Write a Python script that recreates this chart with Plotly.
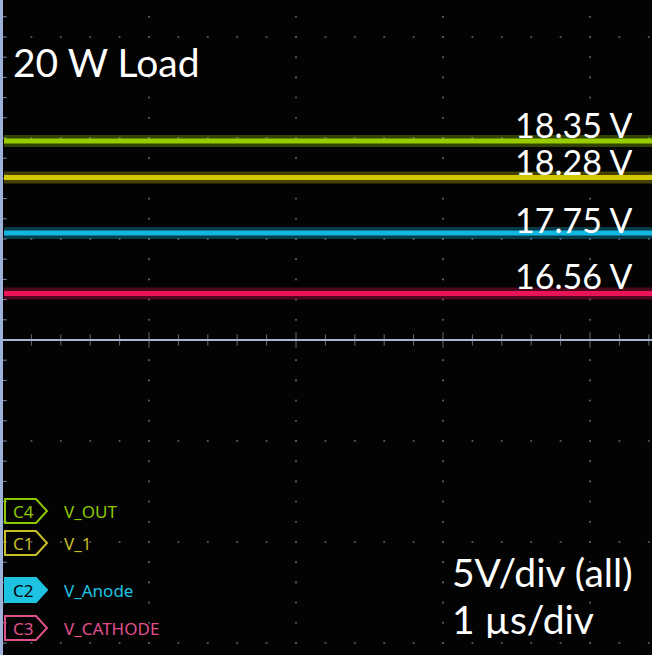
import numpy as np
import plotly.graph_objects as go

W, H = 652, 655

# ---- data ----
channels = ["C4", "C1", "C2", "C3"]
signal_names = ["V_OUT", "V_1", "V_Anode", "V_CATHODE"]
mean_volts = [18.35, 18.28, 17.75, 16.56]
screen_level_div = [1.97, 1.61, 1.06, 0.46]   # on-screen trace position (divisions above centre)
reading_labels = ["18.35 V", "18.28 V", "17.75 V", "16.56 V"]
trace_colors = ["#9CD400", "#D9D000", "#12BEE8", "#F2145C"]
legend_colors = ["#8EC800", "#C9BE26", "#1EC3E1", "#E0508C"]
title_text = "20 W Load"
scale_texts = ["5V/div (all)", "1 µs/div"]
volts_per_div = 5
us_per_div = 1

# ---- screen geometry (pixels) ----
X0_PX, PX_PER_XDIV = 2, 147
Y0_PX, PX_PER_YDIV = 340, 101
x_range = [(0 - X0_PX) / PX_PER_XDIV * us_per_div, (W - X0_PX) / PX_PER_XDIV * us_per_div]
y_range = [(Y0_PX - H) / PX_PER_YDIV, Y0_PX / PX_PER_YDIV]


def paper(px, py):
    return px / W, 1 - py / H


fig = go.Figure()

# ---- graticule dots ----
grid_col = "#55586a"
gx, gy = [], []
minor_x = np.arange(0, 4.5, 0.2)
minor_y = np.arange(-3.0, 3.3, 0.2)
for yy in [-3, -2, -1, 1, 2, 3]:
    gx += list(minor_x); gy += [yy] * len(minor_x)
for xx in [1, 2, 3, 4]:
    gx += [xx] * len(minor_y); gy += list(minor_y)
fig.add_trace(go.Scatter(x=gx, y=gy, mode="markers",
                         marker=dict(size=2.2, color=grid_col, line=dict(width=0)),
                         hoverinfo="skip", showlegend=False))

# centre horizontal line with ticks
axis_col = "#A9B6D2"
fig.add_shape(type="line", xref="x", yref="y", x0=x_range[0], x1=x_range[1], y0=0, y1=0,
              line=dict(color=axis_col, width=2))
fig.add_trace(go.Scatter(x=list(minor_x), y=[0] * len(minor_x), mode="markers",
                         marker=dict(symbol="line-ns", size=[11 if abs(v - round(v)) < 1e-6 else 8 for v in minor_x],
                                     line=dict(color="#8d98b0", width=1)),
                         hoverinfo="skip", showlegend=False))
# left vertical line with ticks
fig.add_shape(type="line", xref="paper", yref="paper", x0=1.5 / W, x1=1.5 / W, y0=0, y1=1,
              line=dict(color="#9FB2DA", width=3))
fig.add_trace(go.Scatter(x=[x_range[0] + 4 / PX_PER_XDIV] * len(minor_y), y=list(minor_y), mode="markers",
                         marker=dict(symbol="line-ew", size=4, line=dict(color="#7d88a0", width=1)),
                         hoverinfo="skip", showlegend=False))

# ---- traces ----
for ch, lvl, col in zip(channels, screen_level_div, trace_colors):
    xs = [x_range[0] + 4 / PX_PER_XDIV, x_range[1]]
    fig.add_trace(go.Scatter(x=xs, y=[lvl, lvl], mode="lines", line=dict(color=col, width=12),
                             opacity=0.3, hoverinfo="skip", showlegend=False))
    fig.add_trace(go.Scatter(x=xs, y=[lvl, lvl], mode="lines", line=dict(color=col, width=5),
                             opacity=0.95, hoverinfo="skip", showlegend=False, name=ch))

# ---- texts ----
FONT = "Lato"
ann = []
px, py = paper(11, 62)
ann.append(dict(x=px, y=py, text=title_text, xanchor="left", yanchor="middle",
                font=dict(family=FONT, size=39, color="white")))
reading_centres = [124, 161, 219, 275]
for lab, cy in zip(reading_labels, reading_centres):
    px, py = paper(634, cy)
    ann.append(dict(x=px, y=py, text=lab, xanchor="right", yanchor="middle", height=34,
                    font=dict(family=FONT, size=34, color="white")))
for t, cy in zip(scale_texts, [572, 619]):
    px, py = paper(450, cy)
    ann.append(dict(x=px, y=py, text=t, xanchor="left", yanchor="middle", height=38,
                    font=dict(family=FONT, size=39, color="white")))

# ---- channel legend badges ----
badge_centres = [511, 543, 590, 628]
for ch, nm, col, cy in zip(channels, signal_names, legend_colors, badge_centres):
    h2 = 12
    pts = [(5, cy - h2), (36, cy - h2), (47, cy), (36, cy + h2), (5, cy + h2)]
    path = "M " + " L ".join(f"{x / W:.5f},{1 - y / H:.5f}" for x, y in pts) + " Z"
    filled = ch == "C2"
    fig.add_shape(type="path", xref="paper", yref="paper", path=path,
                  line=dict(color=col, width=2),
                  fillcolor=col if filled else "rgba(0,0,0,0)")
    px, py = paper(11, cy)
    ann.append(dict(x=px, y=py, text=ch, xanchor="left", yanchor="middle",
                    font=dict(family="Noto Sans", size=17, color="#000000" if filled else col)))
    px, py = paper(62, cy)
    ann.append(dict(x=px, y=py, text=nm, xanchor="left", yanchor="middle",
                    font=dict(family="Noto Sans", size=17, color=col)))

for a in ann:
    a.update(xref="paper", yref="paper", showarrow=False)

fig.update_layout(
    width=W, height=H, margin=dict(l=0, r=0, t=0, b=0),
    paper_bgcolor="#000000", plot_bgcolor="#030303",
    xaxis=dict(range=x_range, visible=False, fixedrange=True),
    yaxis=dict(range=y_range, visible=False, fixedrange=True),
    annotations=ann, showlegend=False, hovermode=False,
)

fig.write_html("out.html", config={"displayModeBar": False},
               post_script="document.body.style.margin='0';document.body.style.overflow='hidden';")
